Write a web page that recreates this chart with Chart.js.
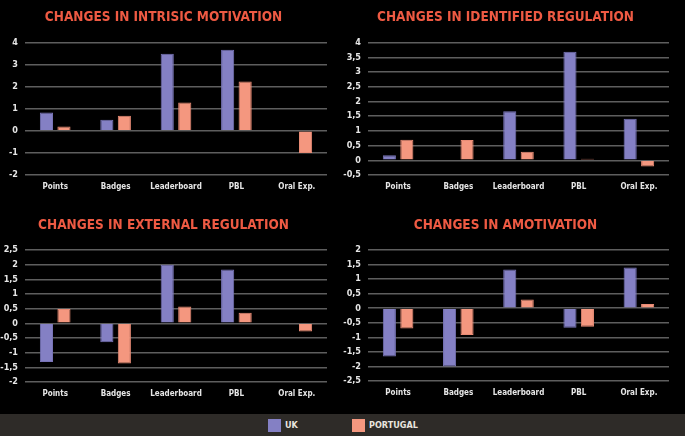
<!DOCTYPE html>
<html>
<head>
<meta charset="utf-8">
<script src="https://cdn.jsdelivr.net/npm/chart.js@4.4.0/dist/chart.umd.min.js"></script>
<style>
  body { margin: 0; background: #000; width: 685px; height: 436px; overflow: hidden; position: relative; }
  .panel { position: absolute; }
  #legend {
    position: absolute; left: 0; top: 414px; width: 685px; height: 22px; background: #2e2b28;
    font-family: "DejaVu Sans Condensed", "DejaVu Sans", sans-serif; font-weight: bold; font-size: 9px; color: #e8e4de;
  }
  .item { position: absolute; top: 5px; height: 13px; line-height: 13px; }
  .swatch { display: inline-block; width: 13px; height: 13px; vertical-align: top; margin-right: 4px; }
</style>
</head>
<body>
<div class="panel" style="left:0;top:0;width:342px;height:200px"><canvas id="c1"></canvas></div>
<div class="panel" style="left:342px;top:0;width:343px;height:200px"><canvas id="c2"></canvas></div>
<div class="panel" style="left:0;top:205px;width:342px;height:202px"><canvas id="c3"></canvas></div>
<div class="panel" style="left:342px;top:205px;width:343px;height:201px"><canvas id="c4"></canvas></div>
<div id="legend"></div>
<script>
// data
const categories = ['Points', 'Badges', 'Leaderboard', 'PBL', 'Oral Exp.'];
const seriesNames = ['UK', 'PORTUGAL'];
const seriesColors = ['#8480c4', '#f4977f'];

const intrinsicUK = [0.83, 0.5, 3.5, 3.68, 0];
const intrinsicPT = [0.2, 0.69, 1.29, 2.24, -1.0];

const identifiedUK = [0.17, 0, 1.67, 3.69, 1.41];
const identifiedPT = [0.7, 0.69, 0.29, 0.05, -0.21];

const externalUK = [-1.32, -0.65, 1.99, 1.83, 0];
const externalPT = [0.49, -1.37, 0.57, 0.36, -0.28];

const amotivationUK = [-1.66, -2.0, 1.33, -0.67, 1.4];
const amotivationPT = [-0.7, -0.92, 0.3, -0.64, 0.14];

const titleColor = '#ee5a43';
const textFont = '"DejaVu Sans Condensed", "DejaVu Sans", sans-serif';

function fmt(v) {
    return String(Math.round(v * 10) / 10).replace('.', ',');
}

function makeChart(id, title, uk, pt, min, max, step, yWidth, padRight, titleTop, titleBottom) {
    new Chart(document.getElementById(id), {
        type: 'bar',
        data: {
            labels: categories,
            datasets: [
                { label: seriesNames[0], data: uk, backgroundColor: seriesColors[0], borderColor: '#7773b6', borderWidth: 1 },
                { label: seriesNames[1], data: pt, backgroundColor: seriesColors[1], borderColor: '#e88b75', borderWidth: 1 }
            ]
        },
        options: {
            responsive: true,
            maintainAspectRatio: false,
            animation: false,
            categoryPercentage: 0.58,
            barPercentage: 0.75,
            layout: { padding: { left: 0, right: padRight, top: 0, bottom: 0 } },
            plugins: {
                legend: { display: false },
                tooltip: { enabled: false },
                title: {
                    display: true,
                    text: title,
                    color: titleColor,
                    font: { family: textFont, size: 13.5, weight: 'bold' },
                    padding: { top: titleTop, bottom: titleBottom }
                }
            },
            scales: {
                x: {
                    grid: { display: false, drawTicks: false },
                    border: { display: false },
                    ticks: { color: '#e6e6e6', font: { family: textFont, size: 8, weight: 'bold' }, padding: 7, maxRotation: 0 },
                    afterFit: s => { s.height = 25; }
                },
                y: {
                    min: min,
                    max: max,
                    grid: { color: '#5e5e5e', lineWidth: 1.5, drawTicks: false },
                    border: { display: false },
                    ticks: { stepSize: step, color: '#e6e6e6', font: { family: textFont, size: 9, weight: 'bold' }, padding: 7, callback: v => fmt(v) },
                    afterFit: s => { s.width = yWidth; }
                }
            }
        }
    });
}

makeChart('c1', 'CHANGES IN INTRISIC MOTIVATION', intrinsicUK, intrinsicPT, -2, 4, 1, 25, 15, 9, 17.4);
makeChart('c2', 'CHANGES IN IDENTIFIED REGULATION', identifiedUK, identifiedPT, -0.5, 4, 0.5, 26, 16, 9, 17.4);
makeChart('c3', 'CHANGES IN EXTERNAL REGULATION', externalUK, externalPT, -2, 2.5, 0.5, 25, 15, 12, 16.7);
makeChart('c4', 'CHANGES IN AMOTIVATION', amotivationUK, amotivationPT, -2.5, 2, 0.5, 26, 16, 12, 16.7);

// legend strip
const legend = document.getElementById('legend');
const legendX = [268, 352];
seriesNames.forEach((name, i) => {
    const item = document.createElement('div');
    item.className = 'item';
    item.style.left = legendX[i] + 'px';
    item.innerHTML = '<span class="swatch" style="background:' + seriesColors[i] + '"></span>' + name;
    legend.appendChild(item);
});
</script>
</body>
</html>
